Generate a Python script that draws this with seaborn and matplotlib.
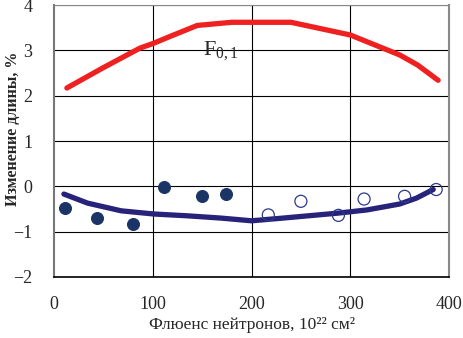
import numpy as np
import pandas as pd
import matplotlib
matplotlib.use("Agg")
import matplotlib.pyplot as plt
import seaborn as sns

# Верхняя кривая F0,1
red_x = [13, 50, 87, 100, 120, 145, 180, 240, 300, 350, 368, 389]
red_y = [2.17, 2.62, 3.05, 3.15, 3.33, 3.55, 3.62, 3.62, 3.34, 2.9, 2.68, 2.34]

# Нижняя кривая
blue_x = [10, 34, 68, 101, 135, 169, 200, 232, 288, 317, 350, 367, 384]
blue_y = [-0.17, -0.37, -0.54, -0.61, -0.65, -0.70, -0.76, -0.70, -0.59,
          -0.52, -0.39, -0.26, -0.07]

# Экспериментальные точки (закрашенные)
filled_x = [11, 44, 80, 111, 150, 174]
filled_y = [-0.48, -0.70, -0.82, -0.01, -0.21, -0.17]

# Экспериментальные точки (пустые)
open_x = [217, 250, 288, 314, 355, 387]
open_y = [-0.63, -0.33, -0.64, -0.28, -0.22, -0.07]

x_ticks = [0, 100, 200, 300, 400]
y_ticks = [-2, -1, 0, 1, 2, 3, 4]

sns.set_style("white")
plt.rcParams['font.family'] = ['Liberation Serif', 'DejaVu Serif']
plt.rcParams['mathtext.fontset'] = 'custom'
plt.rcParams['mathtext.rm'] = 'Liberation Serif'
plt.rcParams['mathtext.it'] = 'Liberation Serif'

fig = plt.figure(figsize=(4.64, 3.38), dpi=100)
ax = fig.add_axes([0.1164, 0.1805, 0.8513, 0.8045])

for y in y_ticks:
    ax.axhline(y, color="black", lw=0.8, zorder=0)
for x in x_ticks[1:-1]:
    ax.axvline(x, color="black", lw=0.8, zorder=0)

sns.lineplot(x=red_x, y=red_y, ax=ax, color="#ee2020", lw=3.8,
             solid_capstyle="round", solid_joinstyle="round", zorder=3)
sns.lineplot(x=blue_x, y=blue_y, ax=ax, color="#27237a", lw=3.8,
             solid_capstyle="round", solid_joinstyle="round", zorder=3)
sns.scatterplot(x=filled_x, y=filled_y, ax=ax, color="#1b3466", s=75,
                edgecolor="#1b3466", zorder=4)
sns.scatterplot(x=open_x, y=open_y, ax=ax, facecolor="none", s=75,
                edgecolor="#2b3a8c", linewidth=0.9, zorder=4)

ax.text(151, 3.0, r"$\mathrm{F}_{0,1}$", fontsize=16, ha="left", va="center")

ax.set_xlim(0, 400)
ax.set_ylim(-2, 4)
ax.set_xticks(x_ticks)
ax.set_yticks(y_ticks)
ax.tick_params(axis="both", direction="out", length=3.6, width=1, color="black",
               labelsize=13)
ax.tick_params(axis="x", pad=10)
ax.tick_params(axis="y", pad=12)

for side in ["left", "right", "top", "bottom"]:
    ax.spines[side].set_visible(True)
ax.spines["left"].set_color("#777777")
ax.spines["left"].set_linewidth(1.5)
ax.spines["right"].set_color("#888888")
ax.spines["right"].set_linewidth(1.5)
ax.spines["top"].set_color("#888888")
ax.spines["bottom"].set_color("black")
ax.spines["bottom"].set_linewidth(1.2)

ax.set_xlabel("Флюенс нейтронов, 10²² см²", fontsize=12.5)
ax.set_ylabel("Изменение длины, %", fontsize=11.5, fontweight="bold")
ax.xaxis.set_label_coords(0.5, -0.148)
ax.yaxis.set_label_coords(-0.083, 0.544)

fig.savefig("out.png", dpi=100)
